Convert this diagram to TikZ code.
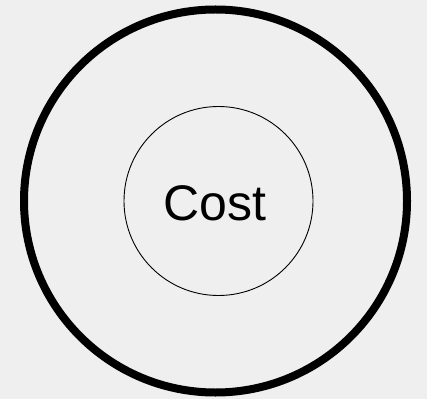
\documentclass[tikz,border=0pt]{standalone}
\usepackage{fontspec}
\setmainfont{Liberation Sans}
\definecolor{paper}{RGB}{239,239,239}
\begin{document}
\begin{tikzpicture}[x=1pt,y=1pt]
\fill[paper] (0,0) rectangle (427,399);
\useasboundingbox (0,0) rectangle (427,399);
\node[circle,draw,line width=8pt,minimum size=383pt,inner sep=0pt] (outer) at (215.5,198) {};
\node[circle,draw,line width=0.9pt,minimum size=189pt,inner sep=0pt] (inner) at (218.5,198) {};
\node[font=\fontsize{50}{50}\selectfont,inner sep=0pt] (cost) at (214.5,196) {Cost};
\end{tikzpicture}
\end{document}
